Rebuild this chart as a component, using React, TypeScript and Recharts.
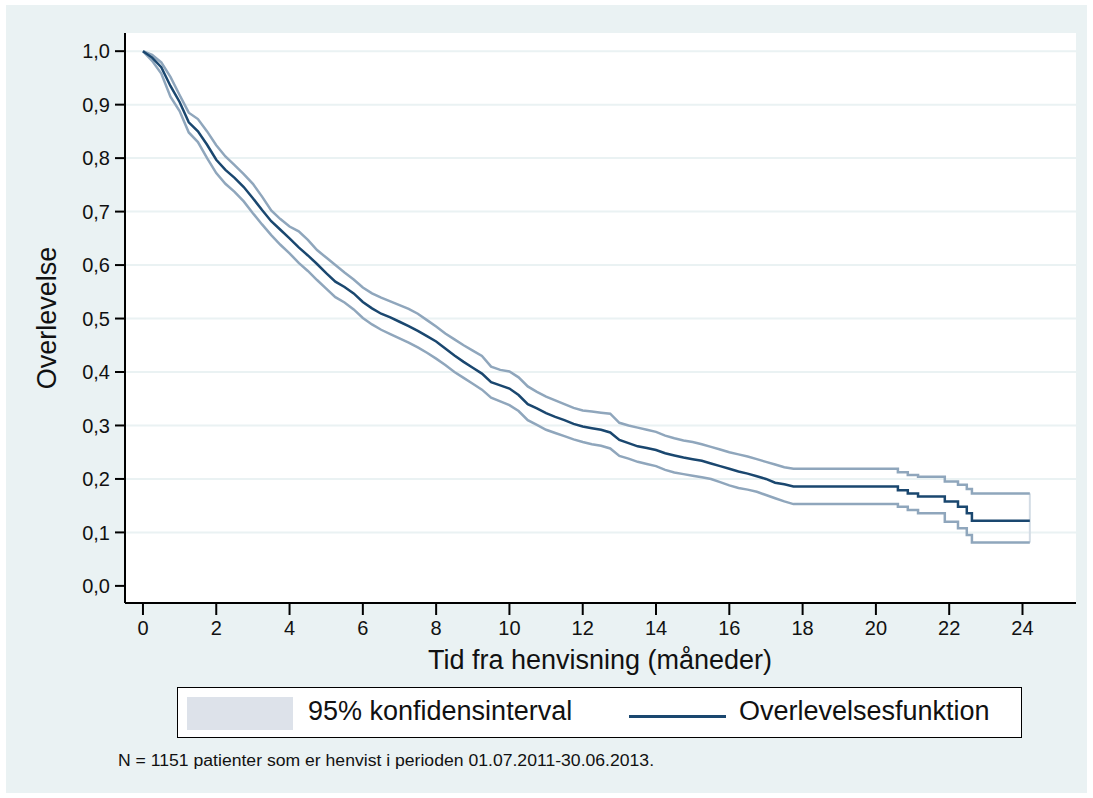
import React from 'react';
import { CartesianGrid, Line, LineChart, ReferenceLine, XAxis, YAxis } from 'recharts';

// tid i måneder (gentagne tider = trin i halen af kurven)
const months = [
  0, 0.25, 0.5, 0.75, 1, 1.25, 1.5, 1.75, 2, 2.25, 2.5, 2.75, 3, 3.25, 3.5, 3.75,
  4, 4.25, 4.5, 4.75, 5, 5.25, 5.5, 5.75, 6, 6.25, 6.5, 6.75, 7, 7.25, 7.5, 7.75,
  8, 8.25, 8.5, 8.75, 9, 9.25, 9.5, 9.75, 10, 10.25, 10.5, 10.75, 11, 11.25, 11.5, 11.75,
  12, 12.25, 12.5, 12.75, 13, 13.25, 13.5, 13.75, 14, 14.25, 14.5, 14.75, 15, 15.25, 15.5, 15.75,
  16, 16.25, 16.5, 16.75, 17, 17.25, 17.5, 17.75,
  20.6, 20.6, 20.87, 20.87, 21.15, 21.15, 21.88, 21.88, 22.24, 22.24, 22.48, 22.48, 22.62, 22.62, 24.2,
];

const survival = [
  1.0, 0.988, 0.97, 0.935, 0.905, 0.867, 0.85, 0.825, 0.797, 0.778, 0.763, 0.746, 0.725, 0.703, 0.682, 0.666,
  0.65, 0.633, 0.618, 0.602, 0.585, 0.569, 0.559, 0.547, 0.531, 0.519, 0.509, 0.502, 0.494, 0.486, 0.477, 0.467,
  0.457, 0.444, 0.431, 0.419, 0.408, 0.397, 0.381, 0.375, 0.369, 0.357, 0.34, 0.332, 0.323, 0.316, 0.31, 0.303,
  0.298, 0.295, 0.292, 0.287, 0.273, 0.267, 0.261, 0.258, 0.254, 0.248, 0.244, 0.24, 0.237, 0.234, 0.229, 0.224,
  0.219, 0.214, 0.21, 0.205, 0.2, 0.193, 0.19, 0.186,
  0.186, 0.179, 0.179, 0.173, 0.173, 0.167, 0.167, 0.158, 0.158, 0.148, 0.148, 0.136, 0.136, 0.122, 0.122,
];

const upperCi = [
  1.0, 0.993, 0.979, 0.952, 0.918, 0.885, 0.873, 0.85, 0.824, 0.803, 0.787, 0.77, 0.752, 0.728, 0.702, 0.686,
  0.672, 0.663, 0.647, 0.628, 0.614, 0.6, 0.586, 0.573, 0.558, 0.547, 0.539, 0.532, 0.525, 0.518, 0.509, 0.497,
  0.485, 0.472, 0.461, 0.45, 0.44, 0.43, 0.41, 0.404, 0.401, 0.39, 0.373, 0.363, 0.354, 0.347, 0.34, 0.333,
  0.328, 0.326, 0.324, 0.322, 0.305, 0.3, 0.296, 0.292, 0.288, 0.281, 0.276, 0.272, 0.269, 0.265, 0.26, 0.255,
  0.25, 0.246, 0.242, 0.237, 0.232, 0.227, 0.222, 0.219,
  0.219, 0.2125, 0.2125, 0.2075, 0.2075, 0.204, 0.204, 0.195, 0.195, 0.189, 0.189, 0.181, 0.181, 0.173, 0.173,
];

const lowerCi = [
  1.0, 0.982, 0.958, 0.915, 0.888, 0.848, 0.83, 0.8, 0.772, 0.752, 0.737, 0.719, 0.697, 0.676, 0.656, 0.638,
  0.622, 0.604, 0.589, 0.572, 0.556, 0.54, 0.53, 0.517, 0.501, 0.489, 0.479, 0.471, 0.463, 0.455, 0.446, 0.436,
  0.425, 0.413, 0.4, 0.389, 0.378, 0.367, 0.352, 0.345, 0.338, 0.327, 0.31, 0.301, 0.292, 0.286, 0.28, 0.274,
  0.269, 0.265, 0.262, 0.257, 0.243, 0.238, 0.232, 0.228, 0.224, 0.217, 0.212, 0.209, 0.206, 0.203, 0.2, 0.194,
  0.188, 0.183, 0.18, 0.176, 0.17, 0.164, 0.158, 0.153,
  0.153, 0.148, 0.148, 0.142, 0.142, 0.136, 0.136, 0.12, 0.12, 0.108, 0.108, 0.095, 0.095, 0.081, 0.081,
];

const xTicks = [0, 2, 4, 6, 8, 10, 12, 14, 16, 18, 20, 22, 24];
const yTicks = [0, 0.1, 0.2, 0.3, 0.4, 0.5, 0.6, 0.7, 0.8, 0.9, 1.0];
const gridLines = [0.1, 0.2, 0.3, 0.4, 0.5, 0.6, 0.7, 0.8, 0.9, 1.0];

const data = months.map((t, i) => ({
  t,
  surv: survival[i],
  hi: upperCi[i],
  lo: lowerCi[i],
}));

const last = months.length - 1;
const font = '"Liberation Sans", Arial, sans-serif';
const navy = '#1a476f';
const ciColor = '#8fa6bc';
const bg = '#eaf2f3';

const App = () => {
  return (
    <div style={{ position: 'absolute', left: 0, top: 0, width: 1093, height: 798, background: '#fff', fontFamily: font }}>
      <div style={{ position: 'absolute', left: 6, top: 5, width: 1081, height: 788, background: bg }} />
      <div style={{ position: 'absolute', left: 0, top: 0 }}>
        <LineChart width={1093} height={798} data={data} margin={{ top: 33, right: 17, bottom: 155, left: 45 }}>
          <CartesianGrid horizontal={false} vertical={false} fill="#ffffff" fillOpacity={1} />
          {gridLines.map((v) => (
            <ReferenceLine key={v} y={v} stroke={bg} strokeWidth={2} />
          ))}
          <XAxis
            type="number"
            dataKey="t"
            domain={[-0.49, 25.46]}
            ticks={xTicks}
            allowDataOverflow
            height={40}
            tickSize={12}
            tickMargin={6}
            tick={{ fill: '#111', fontSize: 20, fontFamily: font }}
            axisLine={{ stroke: '#000', strokeWidth: 2 }}
            tickLine={{ stroke: '#000', strokeWidth: 2 }}
          />
          <YAxis
            type="number"
            domain={[-0.032, 1.034]}
            ticks={yTicks}
            allowDataOverflow
            width={80}
            tickSize={10}
            tickMargin={5}
            tickFormatter={(v: number) => v.toFixed(1).replace('.', ',')}
            tick={{ fill: '#111', fontSize: 20, fontFamily: font }}
            axisLine={{ stroke: '#000', strokeWidth: 2 }}
            tickLine={{ stroke: '#000', strokeWidth: 2 }}
          />
          <ReferenceLine
            segment={[
              { x: months[last], y: lowerCi[last] },
              { x: months[last], y: upperCi[last] },
            ]}
            stroke="#d3dce5"
            strokeWidth={2}
          />
          <Line type="linear" dataKey="hi" stroke={ciColor} strokeWidth={2.5} dot={false} isAnimationActive={false} />
          <Line type="linear" dataKey="lo" stroke={ciColor} strokeWidth={2.5} dot={false} isAnimationActive={false} />
          <Line type="linear" dataKey="surv" stroke={navy} strokeWidth={2.5} dot={false} isAnimationActive={false} />
        </LineChart>
      </div>

      <div
        style={{
          position: 'absolute',
          left: 47,
          top: 318,
          transform: 'translate(-50%, -50%) rotate(-90deg)',
          fontSize: 27,
          color: '#111',
          whiteSpace: 'nowrap',
        }}
      >
        Overlevelse
      </div>
      <div
        style={{
          position: 'absolute',
          left: 600,
          top: 660,
          transform: 'translate(-50%, -50%)',
          fontSize: 27,
          color: '#111',
          whiteSpace: 'nowrap',
        }}
      >
        Tid fra henvisning (måneder)
      </div>

      <div
        style={{
          position: 'absolute',
          left: 177,
          top: 687,
          width: 843,
          height: 49,
          background: '#fff',
          border: '1.5px solid #000',
        }}
      >
        <div style={{ position: 'absolute', left: 9, top: 9, width: 106, height: 33, background: '#dde2ea' }} />
        <div style={{ position: 'absolute', left: 130, top: 8, fontSize: 27, color: '#111', whiteSpace: 'nowrap' }}>
          95% konfidensinterval
        </div>
        <div style={{ position: 'absolute', left: 451, top: 27, width: 97, height: 2.5, background: navy }} />
        <div style={{ position: 'absolute', left: 561, top: 8, fontSize: 27, color: '#111', whiteSpace: 'nowrap' }}>
          Overlevelsesfunktion
        </div>
      </div>

      <div
        style={{
          position: 'absolute',
          left: 118,
          top: 752,
          fontSize: 16,
          color: '#111',
          whiteSpace: 'nowrap',
          transform: 'scaleX(1.1)',
          transformOrigin: 'left center',
        }}
      >
        N = 1151 patienter som er henvist i perioden 01.07.2011-30.06.2013.
      </div>
    </div>
  );
};

export default App;
